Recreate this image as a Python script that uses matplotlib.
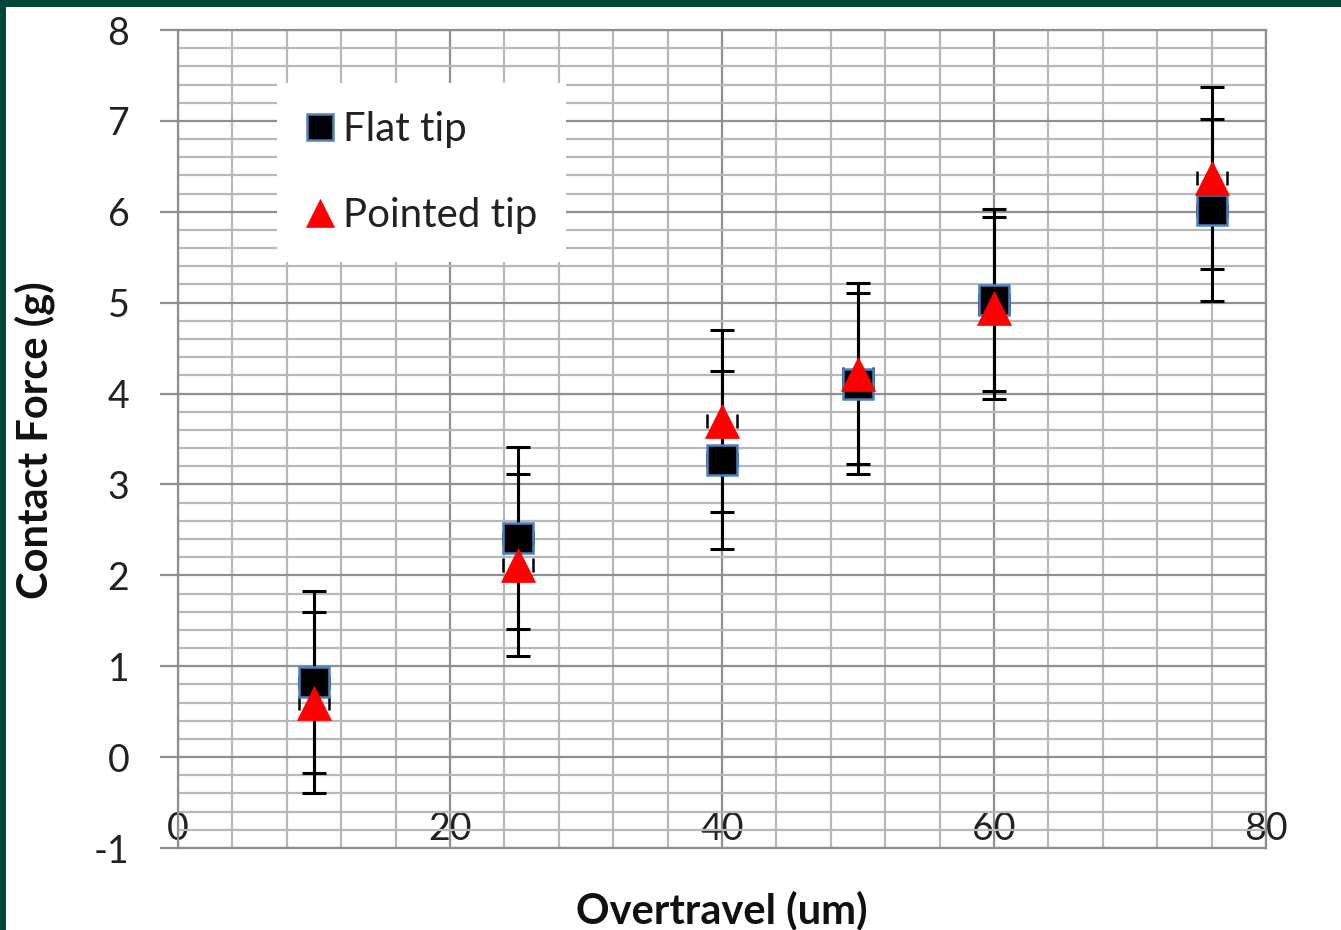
import matplotlib
matplotlib.use("Agg")
import matplotlib.pyplot as plt
from matplotlib.ticker import MultipleLocator
from matplotlib.patches import Rectangle

# --- data ---
overtravel = [10, 25, 40, 50, 60, 76]
flat_force = [0.83, 2.41, 3.27, 4.11, 5.03, 6.02]
flat_err = [1.0, 1.0, 0.98, 1.0, 1.0, 1.0]
pointed_force = [0.60, 2.11, 3.70, 4.22, 4.94, 6.37]
pointed_err = [1.0, 1.0, 1.0, 1.0, 1.0, 1.0]
x_err = [1.1, 1.1, 1.1, 1.1, 1.1, 1.1]

plt.rcParams['font.family'] = ['Lato', 'DejaVu Sans']
plt.rcParams['axes.unicode_minus'] = False

W, H = 1341, 930
fig = plt.figure(figsize=(W / 100, H / 100), dpi=100)
fig.patch.set_facecolor('#00473a')
fig.patches.append(Rectangle((6 / W, 0), 1, 1 - 7 / H, transform=fig.transFigure,
                             facecolor='white', edgecolor='none', zorder=-1))

ax = fig.add_axes([178 / W, (H - 848) / H, 1088 / W, 818 / H])
ax.set_zorder(1)

# error bars first, markers on top
for y, e in [(flat_force, flat_err), (pointed_force, pointed_err)]:
    ax.errorbar(overtravel, y, yerr=e, fmt='none', ecolor='black', elinewidth=2.2,
                capsize=8.5, capthick=2.2, zorder=3)
    # x error bars: only the small caps peek out beside the markers
    ax.errorbar(overtravel, y, xerr=x_err, fmt='none', ecolor='black', elinewidth=0,
                capsize=5, capthick=1.8, zorder=3)

ax.plot(overtravel, flat_force, linestyle='none', marker='s', markersize=22,
        markerfacecolor='black', markeredgecolor='#4f81bd', markeredgewidth=1.8,
        label='Flat tip', zorder=4)
ax.plot(overtravel, pointed_force, linestyle='none', marker='^', markersize=24,
        markerfacecolor='#ff0000', markeredgecolor='#ff0000', markeredgewidth=0.5,
        label='Pointed tip', zorder=5)

ax.set_xlim(0, 80)
ax.set_ylim(-1, 8)
ax.xaxis.set_major_locator(MultipleLocator(20))
ax.xaxis.set_minor_locator(MultipleLocator(4))
ax.yaxis.set_major_locator(MultipleLocator(1))
ax.yaxis.set_minor_locator(MultipleLocator(0.2))

ax.grid(True, which='major', color='#8f8f8f', linewidth=1.6, zorder=1)
ax.grid(True, which='minor', color='#b8b8b8', linewidth=1.6, zorder=1)
ax.set_axisbelow(True)

for s in ax.spines.values():
    s.set_color('#8f8f8f')
    s.set_linewidth(1.6)

ax.tick_params(axis='y', which='major', direction='out', length=13, width=1.6,
               color='#8f8f8f', labelsize=27, pad=22, labelcolor='#222222')
ax.tick_params(axis='x', which='major', length=0, labelsize=27, pad=-27,
               labelcolor='#222222')
ax.tick_params(which='minor', length=0)

leg = ax.legend(loc='upper left', bbox_to_anchor=(0.091, 0.935), borderaxespad=0,
                fontsize=29, frameon=True, fancybox=False, framealpha=1,
                facecolor='white', edgecolor='none', borderpad=0.7,
                labelspacing=1.2, handlelength=0.75, handletextpad=0.2,
                markerscale=0.85)
leg.set_zorder(6)
for t in leg.get_texts():
    t.set_color('#222222')

fig.text(35 / W, (H - 440) / H, 'Contact Force (g)', rotation=90, ha='center',
         va='center', fontsize=30, fontweight='bold', color='#111111')
fig.text(722 / W, (H - 910) / H, 'Overtravel (um)', ha='center', va='center',
         fontsize=30, fontweight='bold', color='#111111')

fig.savefig('out.png', dpi=100, facecolor=fig.get_facecolor())
